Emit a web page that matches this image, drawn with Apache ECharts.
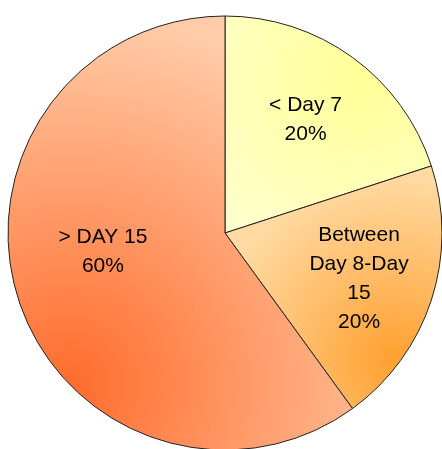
<!DOCTYPE html>
<html>
<head>
<meta charset="utf-8">
<script src="https://cdn.jsdelivr.net/npm/echarts@6/dist/echarts.min.js"></script>
<style>
  html, body { margin: 0; padding: 0; background: #fff; }
  #chart { width: 442px; height: 449px; }
</style>
</head>
<body>
<div id="chart"></div>
<script>
// 数据
var categories = ['< Day 7', 'Between\nDay 8-Day\n15', '> DAY 15'];
var values = [20, 20, 60];

// 每块的渐变和标签偏移
var sliceStyles = [
  { grad: [360, 80, 190, '#ffff98', '#ffffcc'], offset: [15, -23] },
  { grad: [395, 360, 185, '#ffa030', '#ffdaa2'], offset: [28, 11] },
  { grad: [70, 385, 370, '#ff6c2c', '#ffcba8'], offset: [-16, -16] }
];

var myChart = echarts.init(document.getElementById('chart'));

var pieData = categories.map(function (name, i) {
  var g = sliceStyles[i].grad;
  return {
    name: name,
    value: values[i],
    itemStyle: {
      color: new echarts.graphic.RadialGradient(g[0], g[1], g[2], [
        { offset: 0, color: g[3] },
        { offset: 1, color: g[4] }
      ], true)
    },
    label: { offset: sliceStyles[i].offset }
  };
});

myChart.setOption({
  animation: false,
  series: [
    {
      type: 'pie',
      center: [225, 233],
      radius: 217,
      startAngle: 90,
      clockwise: true,
      silent: true,
      itemStyle: {
        borderColor: '#222',
        borderWidth: 1
      },
      label: {
        show: true,
        position: 'inside',
        formatter: '{b}\n{d}%',
        color: '#000',
        fontFamily: 'Liberation Sans, Arial, sans-serif',
        fontSize: 21,
        lineHeight: 29,
        align: 'center'
      },
      labelLine: { show: false },
      data: pieData
    }
  ]
});
</script>
</body>
</html>
